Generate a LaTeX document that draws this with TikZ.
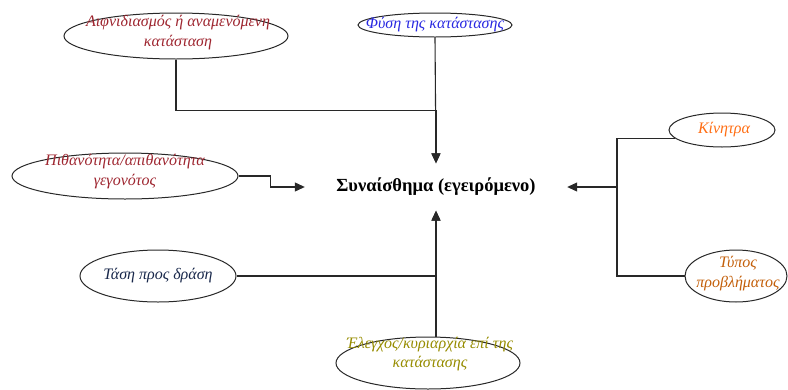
\documentclass[tikz,border=0pt]{standalone}
\usepackage{fontspec}
\setmainfont{Liberation Serif}
\usetikzlibrary{arrows.meta,shapes.geometric}
\definecolor{wine}{RGB}{158,38,48}
\definecolor{royal}{RGB}{40,40,225}
\definecolor{tangerine}{RGB}{255,110,20}
\definecolor{rust}{RGB}{195,95,10}
\definecolor{navyink}{RGB}{25,40,75}
\definecolor{olivegold}{RGB}{150,140,0}
\definecolor{edge}{RGB}{40,40,40}
\tikzset{
  oval/.style={ellipse,draw=edge,line width=1pt,inner sep=0pt},
  lbl/.style={font=\itshape\fontsize{16}{20}\selectfont,align=center,inner sep=0pt},
  link/.style={draw=edge,line width=1.1pt},
  arr/.style={link,-{Triangle[length=10pt,width=9pt]}}
}
\begin{document}
\begin{tikzpicture}[x=1pt,y=-1pt]
\useasboundingbox (0,0) rectangle (788,389);

% central emotion
\node[minimum width=262pt,minimum height=47pt,inner sep=0pt,
      font=\bfseries\fontsize{18.5}{22}\selectfont] (c) at (436,187) {Συναίσθημα (εγειρόμενο)};

% surrounding factors
\node[oval,minimum width=224pt,minimum height=46pt] (a1) at (176,36) {};
\node[lbl,text=wine] at (178,33) {Αιφνιδιασμός ή αναμενόμενη\\κατάσταση};

\node[oval,minimum width=154pt,minimum height=24pt] (a2) at (435,25) {};
\node[lbl,text=royal] at (435,25) {Φύση της κατάστασης};

\node[oval,minimum width=226pt,minimum height=46pt] (a3) at (125,176) {};
\node[lbl,text=wine] at (125,172) {Πιθανότητα/απιθανότητα\\γεγονότος};

\node[oval,minimum width=106pt,minimum height=34pt] (a4) at (722,130) {};
\node[lbl,text=tangerine] at (724,130) {Κίνητρα};

\node[oval,minimum width=102pt,minimum height=52pt] (a5) at (736,276) {};
\node[lbl,text=rust] at (738,274) {Τύπος\\προβλήματος};

\node[oval,minimum width=156pt,minimum height=52pt] (a6) at (158,276) {};
\node[lbl,text=navyink] at (158,276) {Τάση προς δράση};

\node[oval,minimum width=184pt,minimum height=52pt] (a7) at (428,363) {};
\node[lbl,text=olivegold,font=\itshape\fontsize{16}{19}\selectfont] at (430,354) {Έλεγχος/κυριαρχία επί της\\κατάστασης};

% connectors
\coordinate (j) at (617,187);
\draw[arr] (a1.south) -- ++(0,51) -| (c.north);
\draw[arr] (a2.south) -- (c.north);
\draw[arr] (a3.east) -- ++(32,0) |- (c.west);
\draw[link] (a4.190) -| (j) |- (a5.west);
\draw[arr] (j) -- (c.east);
\draw[arr] (a6.east) -| (c.south);
\draw[arr] (c.south |- a7.north) -- (c.south);
\end{tikzpicture}
\end{document}
